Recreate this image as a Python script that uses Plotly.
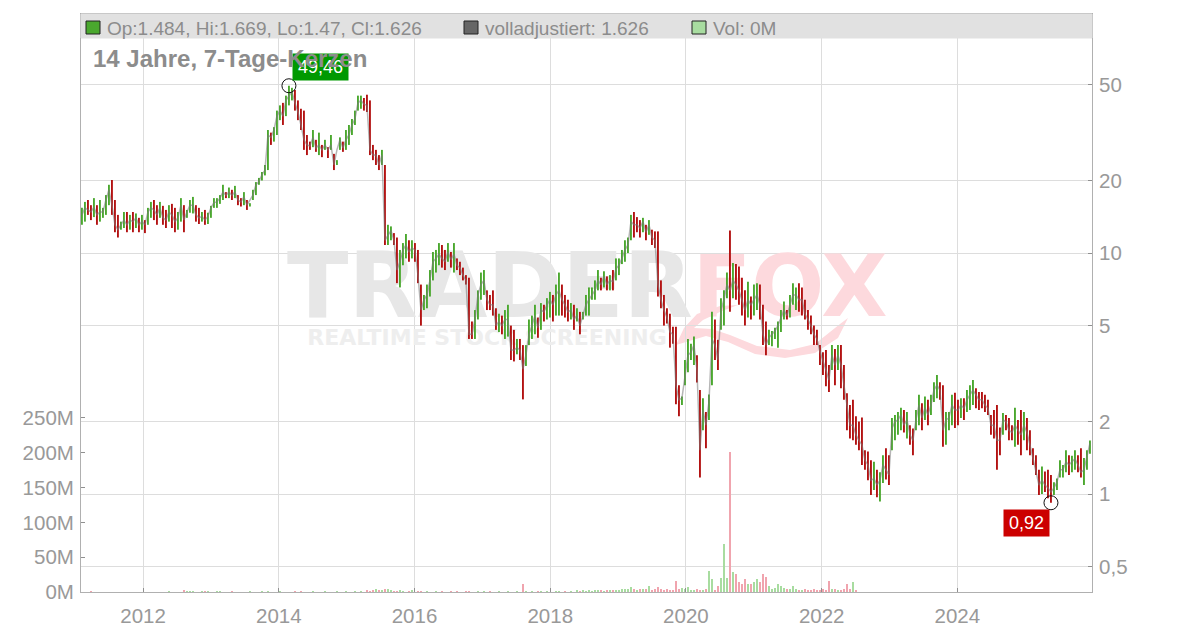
import pandas as pd
import plotly.graph_objects as go

# Price bars, left to right (15 per row)
highs = [
15.4,16.3,16.6,15.8,16.9,15.8,16.6,15.4,17.4,19.2,20.1,16.6,14.4,13.5,14.8,
14.8,14.4,14.8,14.6,14,14.4,13.7,15.4,16.3,16.6,15.8,16.3,15.7,15.1,15.8,
16,15.4,14.8,16.9,15.8,15.1,16.6,17.1,15.8,15.4,14.8,15.1,14.7,15.7,16.9,
16.9,17.4,19.2,17.9,18.7,18.3,19,17.4,16.9,17.9,16.6,16.1,18.3,19.7,20.5,
21.7,23.2,32.4,31.6,33.3,39,41,42,45,49.46,48.5,47.5,43,39.7,39,
30.9,29,32.4,29.5,31.6,28.1,29.5,27.5,30.9,25.8,23.2,30.2,29,32.4,34,
36,39,45,45,44,45.4,43,28.1,26.8,25.5,26.8,23.2,13.1,12.9,12.1,
11.6,10.3,11,12,11.3,11.3,11,10.3,7.4,6.7,7.4,8.5,10.1,10.3,11,
10.8,10.3,11,10.1,11,9.5,9.2,8.7,8.1,7.9,5.2,5.8,7,8.3,8.5,
7,6.7,7,5.9,5.6,5.5,5.8,6.1,5,4.8,4.4,4.4,4.15,4.15,5.3,
5.5,6.1,5.4,6.2,6.1,6.5,6.9,6.7,7.4,8.3,7.4,6.7,6.4,6.2,6.1,
5.9,5.7,5.7,6.7,7.2,7.2,7.7,8.5,7.9,8.4,8,8.1,8.5,9.5,9.5,
10.3,11.3,11.6,14.4,14.8,14.1,13.7,14,13.1,13.7,12.5,12.3,12.3,7.7,6.7,
5.9,5.6,4.95,4.95,2.83,2.54,3.6,4.4,4.2,4.5,3.77,2.7,2.5,2.19,2.59,
5.7,5.3,4.37,6.5,7,8.3,12.4,9.1,9,8.8,7.9,7,7.6,6.6,7.4,
7.5,7.4,6.1,5.2,4.8,4.75,4.9,5.2,5.8,6.3,5.8,6.7,7.5,7.2,7.5,
7.2,6.4,5.8,5.5,5,4.8,4.15,3.88,3.96,3.43,4.15,4,4.15,4.15,3.43,
2.62,2.34,2.46,2.1,2,2.08,1.52,1.5,1.38,1.36,1.26,1.23,1.45,1.55,1.45,
2.07,2.13,2.19,2.28,2.23,2.19,1.93,1.87,2.23,2.58,2.38,2.54,2.46,2.58,2.91,
3.12,2.91,2.83,2.19,2.19,2.58,2.63,2.46,2.5,2.5,2.7,2.83,2.97,2.75,2.65,
2.65,2.58,2.46,2.13,2.23,2.34,1.89,2.17,2.13,2.07,1.93,2.28,2.03,2.23,2.19,
2.07,1.84,1.55,1.45,1.26,1.3,1.24,1.26,1.2,1.12,1.16,1.38,1.32,1.52,1.45,
1.44,1.52,1.45,1.55,1.41,1.52,1.669]

lows = [
13.1,13.5,14.4,13.7,14.1,13.1,13.5,14,14.4,15.8,14.4,12.2,11.6,12.5,12.7,
12.2,12.5,12.2,12.7,12.2,12.5,12.1,13.1,14,13.7,13.1,14,13.1,12.7,13.5,
12.7,12.2,12.5,13.5,12.2,14,14.7,14.6,13.5,13.2,13.5,13.1,13.2,14,15.4,
15.4,16,16.6,16.9,16.9,16.6,16.9,15.8,15.6,15.8,15.1,15.6,16.6,17.4,19.2,
20,21,22.1,28.1,29,30.9,35.6,34,37,41,43,39,35.6,32.4,26.8,
25.5,26.8,27.5,26.3,25.5,25,26.8,24.8,26.8,22.1,24.3,26.8,26.3,26.8,28.1,
30.9,34,39,39.7,39,38.5,25.5,24.3,23.2,22.1,23.2,10.8,10.8,11.3,10.8,
7.5,7.2,8.9,9.5,9.2,9.5,9.2,7.5,5,5.8,5.9,6.6,7.7,8.3,8.9,
8.7,8.5,9.2,8.7,8.3,8.5,8.1,7.7,7.4,4.4,4.4,4.4,5.3,6.4,6.7,
5.8,5.8,5.5,4.8,4.7,4.6,4.4,4.5,3.6,3.55,3.8,3.6,2.47,3.4,4.15,
4.4,4.6,4.45,4.8,5.2,5.3,5.4,5.2,5.5,5.5,5.5,5.4,5.2,5.3,4.8,
5.2,4.6,5.3,5.5,5.5,6.4,6.4,7,7,7.2,7,7,7,7.7,8.1,
9,9.2,10,11.3,11.6,12.2,11.6,12.2,11.3,11.9,10.8,10.5,6.6,5.9,5,
5.1,4.05,4.2,2.36,2.1,2.34,2.83,3.2,3.6,3.43,2.9,1.17,1.84,1.55,2.03,
2.83,3.6,3.27,4.8,5,6.5,5.7,6.5,6.4,6.1,5.5,5,5.4,5.3,5.5,
5.8,5.3,4.15,3.77,4.15,4.1,4.4,4.05,4.7,5.3,5.3,5.4,6.1,5.8,5.7,
5.5,5.3,4.8,4.6,4.15,4.15,3.43,3.12,2.8,2.65,3.27,2.83,3.27,2.75,2.46,
1.84,1.7,1.67,1.6,1.52,1.32,1.26,1.14,0.99,1.04,0.97,0.93,1.11,1.15,1.09,
1.52,1.67,1.76,1.84,1.8,1.7,1.6,1.45,1.84,1.93,1.84,2.03,1.93,2.13,2.41,
2.5,2.46,1.57,1.6,1.84,1.93,1.88,1.93,2.07,2.03,2.19,2.23,2.34,2.27,2.23,
2.27,2.19,2.13,1.76,1.7,1.26,1.45,1.76,1.84,1.67,1.67,1.57,1.6,1.45,1.67,
1.52,1.45,1.32,1.2,0.99,1,1.02,0.96,0.92,0.99,1.04,1.17,1.17,1.23,1.2,
1.23,1.26,1.23,1.17,1.09,1.26,1.47]

closes = [
14.4,15.4,15.1,14.8,15.5,14.4,14.8,14.8,16.6,18.3,15.8,13.1,12.5,13.1,13.7,
13.1,13.7,13.5,14,13.1,13.5,13.1,14.8,15.4,15.1,14.4,15.4,14,13.7,14.8,
14.4,13.5,14,15.8,13.7,14.8,15.8,15.8,14.4,14,14.2,13.7,14.2,15.4,16.2,
16.3,16.9,17.9,17.4,17.9,17.4,17.9,16.6,16.3,17.1,15.8,16.6,17.4,19.2,19.8,
21.1,22.1,30.9,30.2,32.4,37,39,37,43,45,46.7,42,38.5,34,29.5,
28.1,27.8,30.2,27.3,28.1,26.8,28.1,26.8,28.1,23.2,26.8,29.5,27.3,29.5,30.9,
34,36,42,43,41.5,41,26.8,25.5,25.5,23.2,25.5,11.3,11.9,12.4,11.3,
8.5,9.2,10.3,10.8,10.1,10.5,10.3,8.1,5.8,6.4,6.7,7.7,9.2,9.5,9.9,
9.5,9.2,10.1,9.4,9.9,8.9,8.7,8.1,7.7,4.6,4.6,5.3,6.7,7.4,7.7,
6.4,6.1,6.1,5,5.2,5,5.3,5.3,3.96,3.96,4.05,3.96,3.3,3.77,4.6,
5,5.5,4.9,5.8,5.7,6.1,6.4,6.1,6.7,7,6.4,6.1,5.7,5.8,5.3,
5.5,5,5.5,6.1,6.4,6.7,7,7.7,7.4,8,7.4,7.7,7.6,8.6,8.9,
9.5,10.3,10.8,13.5,13.1,13.1,12.7,13.5,12.2,13.1,11.6,11.3,7.4,6.4,5.8,
5.4,4.7,4.6,2.83,2.46,2.5,3.12,3.77,3.87,4.15,3.27,1.52,2.23,1.93,2.41,
4.4,4.15,3.6,5.8,6.4,7.4,7,7.7,7.4,7,6.4,5.8,6.4,6.1,6.4,
6.7,6.1,4.6,4.15,4.45,4.6,4.75,5,5.4,5.8,5.5,6.1,6.7,6.7,6.4,
6.4,5.6,5.3,5,4.6,4.4,3.9,3.6,3.27,2.97,3.77,3.43,3.77,3.43,2.83,
2.23,1.93,1.93,1.76,1.67,1.6,1.38,1.32,1.14,1.16,1.09,1.14,1.32,1.26,1.2,
1.87,2,2.03,2.13,1.93,2.03,1.76,1.67,2.03,2.34,2.07,2.28,2.13,2.34,2.7,
2.83,2.7,1.84,2.03,2.07,2.34,2.23,2.23,2.34,2.27,2.46,2.58,2.7,2.58,2.46,
2.46,2.34,2.27,1.93,1.93,1.67,1.67,2.03,2,1.84,1.8,1.93,1.84,1.76,1.93,
1.8,1.6,1.41,1.26,1.09,1.14,1.09,1.06,1.02,1.06,1.12,1.26,1.26,1.36,1.32,
1.36,1.4,1.32,1.23,1.26,1.45,1.626]

volumes_m = [
0,0,0,0.5,0,0,0,0,0,0,0,0,0,0,0,
0,0,0,0,0,0,0,0,0,0,0,0,0,0,0.5,
0,0,0,0,1.5,1,1,1,0,0,1,1,1,0,0,
1,1,0,0,0,0.5,0,0,0,0,0,1,0,0,0,
0.5,0,1,0,0,0,1,0,0,0,0,0.5,0,0.5,0,
0,0,1,0,0,0,0.5,0,0,0,1,0,0,0.5,0,
0,0.5,0,1,0,2,1,3,4,3,2,5,4,3,1,
1,2,1,0,1,2,0,1,1,0,1,0,0,1,0,
1,0,0,1,0,1,0,0,0.5,1,0,0,1,0,1,
0,1,0,0,1,0,0,1,0,0,1,0,11,1,0,
1,0,1,1,0,1,0,0,1,1,0,1,0,1,0,
2,1,2,1,2,1,2,3,2,1,2,3,2,3,2,
5,4,4,7,4,3,4,4,5,9,3,5,7,5,3,
4,3,3,16,5,6,4,7,3,3,4,3,3,4,30,
18,3,8,20,69,20,201,29,26,14,12,19,12,12,15,
19,14,26,22,8,5,6,12,8,6,4,5,9,5,3,
3,4,3,2,4,3,3,5,3,16,5,4,3,3,5,
12,4,14,3,0,0,0,0,0,0,0,0,0,0,0,
0,0,0,0,0,0,0,0,0,0,0,0,0,0,0,
0,0,0,0,0,0,0,0,0,0,0,0,0,0,0,
0,0,0,0,0,0,0,0,0,0,0,0,0,0,0,
0,0,0,0,0,0,0,0,0,0,0,0,0,0,0,
0,0,0,0,0,0,0]

price_ticks = [0.5, 1, 2, 5, 10, 20, 50]
price_tick_labels = ["0,5", "1", "2", "5", "10", "20", "50"]
volume_ticks = [0, 50, 100, 150, 200, 250]
volume_tick_labels = ["0M", "50M", "100M", "150M", "200M", "250M"]
high_label = "49,46"
low_label = "0,92"

assert len(highs) == len(lows) == len(closes) == len(volumes_m)
n = len(closes)
opens = [closes[0]] + closes[:-1]
dates = pd.date_range("2011-02-06", "2025-12-15", periods=n)

UP, DOWN = "#4aa82e", "#b31212"
VOL_UP, VOL_DOWN = "#a8dca0", "#f0a4ae"
X0, X1 = pd.Timestamp("2011-02-01"), pd.Timestamp("2025-12-26")

# page-pixel helpers for decoration only
L, R, T, B = 81, 1092, 14, 592
def px(x): return (x - L) / (R - L)
def py(y): return (B - y) / (B - T)
def dx(x): return X0 + (X1 - X0) * px(x)
VOL_TOP = 830
def vy(y): return py(y) * VOL_TOP

fig = go.Figure()

for txt, x, y, size, col in [("TRADER", 490, 294, 90, "#e7e7e7"),
                             ("FOX", 790, 294, 86, "#fdd9dd"),
                             ("REALTIME STOCK SCREENING", 487, 339, 22, "#eeeeee")]:
    fig.add_trace(go.Scatter(x=[dx(x)], y=[vy(y)], mode="text", text=[txt], yaxis="y", xaxis="x",
                             textposition="middle center", hoverinfo="skip",
                             textfont=dict(family="DejaVu Sans", size=size, color=col,
                                           weight="bold")))

fig.add_trace(go.Bar(x=dates, y=volumes_m, yaxis="y", xaxis="x", width=8 * 86400000,
                     marker=dict(color=[VOL_UP if c >= o else VOL_DOWN for c, o in zip(closes, opens)],
                                 line=dict(width=0))))

fig.add_trace(go.Scatter(x=dates, y=closes, mode="lines", yaxis="y2", xaxis="x", hoverinfo="skip",
                         line=dict(color="rgba(120,120,120,0.55)", width=1.5)))

fig.add_trace(go.Ohlc(x=dates, open=opens, high=highs, low=lows, close=closes,
                      yaxis="y2", xaxis="x", tickwidth=0,
                      increasing=dict(line=dict(color=UP, width=1.9)),
                      decreasing=dict(line=dict(color=DOWN, width=1.9))))

hi_i = highs.index(max(highs))
lo_i = lows.index(min(lows))
fig.add_trace(go.Scatter(x=[dates[hi_i], dates[lo_i]], y=[highs[hi_i], lows[lo_i]], mode="markers",
                         yaxis="y2", xaxis="x", hoverinfo="skip",
                         marker=dict(symbol="circle-open", size=14, color="#111111",
                                     line=dict(width=1, color="#111111"))))

def rect(x0, y0, x1, y1, fill, line=None, lw=1):
    return dict(type="rect", xref="paper", yref="paper", x0=px(x0), x1=px(x1), y0=py(y1), y1=py(y0),
                fillcolor=fill, line=dict(color=line or fill, width=lw), layer="above")

swoosh_pts = [(676, 345), (684, 328), (697, 314), (720, 306), (738, 305), (722, 311), (703, 320),
              (694, 328), (712, 329), (730, 335), (757, 346), (790, 350), (815, 344), (840, 324),
              (848, 318), (838, 338), (815, 353), (785, 358), (755, 354), (728, 342), (706, 336)]
swoosh = "M " + " L ".join(f"{px(x):.5f} {py(y):.5f}" for x, y in swoosh_pts) + " Z"

shapes = [
    dict(type="path", xref="paper", yref="paper", path=swoosh, fillcolor="#fdd9dd",
         line=dict(width=0), layer="below"),
    rect(81, 14, 1092, 38, "#e1e1e1"),
    rect(86, 21, 100, 34, "#4aa82e", "#222222"),
    rect(464, 21, 478, 34, "#666666", "#222222"),
    rect(692, 21, 706, 34, "#a8dca0", "#222222"),
]

GREY = "#8c8c8c"
def note(text, x, y, size=19, color=GREY, bold=False, anchor="left", **kw):
    return dict(text=f"<b>{text}</b>" if bold else text, xref="paper", yref="paper",
                x=px(x), y=py(y), xanchor=anchor, yanchor="middle", showarrow=False,
                font=dict(family="Liberation Sans", size=size, color=color), **kw)

annotations = [
    note("Op:1.484, Hi:1.669, Lo:1.47, Cl:1.626", 105, 28),
    note("volladjustiert: 1.626", 483, 28),
    note("Vol: 0M", 711, 28),
    note(high_label, 320.5, 67, size=18, color="white", anchor="center", bgcolor="#009900",
         width=53, height=24),
    note(low_label, 1026.5, 523, size=18, color="white", anchor="center", bgcolor="#cc0000",
         width=43, height=24),
    note("14 Jahre, 7-Tage-Kerzen", 91, 59, size=24, bold=True),
]

axis_font = dict(family="Liberation Sans", size=20.5, color="#999999")
TICK = "#909090"
fig.update_layout(
    width=1200, height=628, showlegend=False, bargap=0,
    margin=dict(l=L, r=1200 - R, t=T, b=628 - B, pad=0, autoexpand=False),
    paper_bgcolor="white", plot_bgcolor="white",
    shapes=shapes, annotations=annotations,
    xaxis=dict(type="date", range=[X0, X1], tick0="2012-01-01", dtick="M24", tickformat="%Y",
               automargin=False, showgrid=True, gridcolor="#dddddd", gridwidth=1, zeroline=False,
               showline=True, linecolor="#b0b0b0", linewidth=1, mirror=True,
               ticks="inside", ticklen=4, tickcolor=TICK, tickfont=axis_font, ticklabelstandoff=5,
               rangeslider=dict(visible=False)),
    yaxis=dict(range=[0, VOL_TOP], tickvals=volume_ticks, ticktext=volume_tick_labels,
               automargin=False, showgrid=False, zeroline=False, side="left",
               showline=True, linecolor="#b0b0b0", linewidth=1,
               ticks="inside", ticklen=4, tickcolor=TICK, tickfont=axis_font, ticklabelstandoff=2),
    yaxis2=dict(type="log", overlaying="y", side="right",
                range=[-0.4066, 1.992], tickvals=price_ticks, ticktext=price_tick_labels,
                automargin=False, showgrid=True, gridcolor="#dddddd", gridwidth=1, zeroline=False,
                showline=True, linecolor="#b0b0b0", linewidth=1,
                ticks="inside", ticklen=4, tickcolor=TICK, tickfont=axis_font, ticklabelstandoff=2),
)

fig.write_html("out.html", config=dict(displayModeBar=False),
               post_script="document.body.style.margin='0';document.documentElement.style.margin='0';")
